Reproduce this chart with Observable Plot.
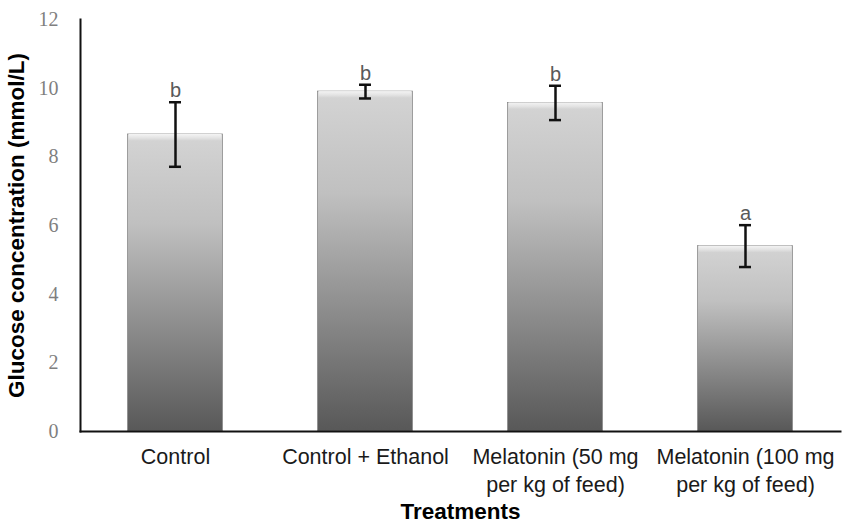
<!DOCTYPE html>
<html>
<head>
<meta charset="utf-8">
<script src="https://cdn.jsdelivr.net/npm/d3@7"></script>
<script src="https://cdn.jsdelivr.net/npm/@observablehq/plot@0.6"></script>
<style>
  body { margin: 0; background: #fff; }
</style>
</head>
<body>
<div id="chart"></div>
<script>
const treatments = ["Control", "Control + Ethanol", "Melatonin (50 mg per kg of feed)", "Melatonin (100 mg per kg of feed)"];
const tickLabels = ["Control", "Control + Ethanol", "Melatonin (50 mg\nper kg of feed)", "Melatonin (100 mg\nper kg of feed)"];
const means = [8.65, 9.9, 9.57, 5.4];
const errors = [0.94, 0.2, 0.5, 0.61];
const letters = ["b", "b", "b", "a"];
const yTicks = [0, 2, 4, 6, 8, 10, 12];

const data = treatments.map((t, i) => ({t, mean: means[i], err: errors[i], letter: letters[i]}));

const plot = Plot.plot({
  width: 843,
  height: 526,
  marginLeft: 80,
  marginRight: 3,
  marginTop: 19,
  marginBottom: 95,
  style: {fontFamily: "Liberation Sans, Arial, sans-serif", background: "#fff"},
  x: {domain: treatments, paddingInner: 0.5, paddingOuter: 0.25, round: false},
  y: {domain: [0, 12]},
  marks: [
    Plot.barY(data, {x: "t", y: "mean", fill: "url(#barGrad)", stroke: "#8a8a8a", strokeWidth: 0.8}),
    Plot.barY(data, {x: "t", y1: d => d.mean - 0.2, y2: "mean", fill: "url(#bevelGrad)", insetLeft: 1, insetRight: 1}),
    Plot.ruleX(data, {x: "t", y1: d => d.mean - d.err, y2: d => d.mean + d.err, stroke: "#111", strokeWidth: 2.5}),
    Plot.tickY(data, {x: "t", y: d => d.mean + d.err, stroke: "#111", strokeWidth: 2.5, insetLeft: 41.5, insetRight: 41.5}),
    Plot.tickY(data, {x: "t", y: d => d.mean - d.err, stroke: "#111", strokeWidth: 2.5, insetLeft: 41.5, insetRight: 41.5}),
    Plot.text(data, {x: "t", y: d => d.mean + d.err, text: "letter", lineAnchor: "bottom", dy: -5, fontSize: 20, fill: "#595959"}),
    Plot.axisY({ticks: yTicks, tickSize: 0, tickPadding: 22, fontSize: 20, fontFamily: "Liberation Serif, serif", color: "#7f7f7f", label: "Glucose concentration (mmol/L)", labelAnchor: "center", labelOffset: 72, labelArrow: false}),
    Plot.axisX({tickSize: 0, tickPadding: 13, fontSize: 21.5, lineHeight: 1.3, color: "#1a1a1a", tickFormat: (d) => tickLabels[treatments.indexOf(d)], label: "Treatments", labelAnchor: "center", labelOffset: 87, labelArrow: false}),
    Plot.frame({anchor: "left", stroke: "#111", strokeWidth: 2}),
    Plot.frame({anchor: "bottom", stroke: "#111", strokeWidth: 2})
  ]
});

const svg = d3.select(plot);
const defs = svg.insert("defs", ":first-child");
const g = defs.append("linearGradient").attr("id", "barGrad").attr("x1", 0).attr("y1", 0).attr("x2", 0).attr("y2", 1);
g.append("stop").attr("offset", "0%").attr("stop-color", "#d4d4d4");
g.append("stop").attr("offset", "30%").attr("stop-color", "#c0c0c0");
g.append("stop").attr("offset", "100%").attr("stop-color", "#585858");
const b = defs.append("linearGradient").attr("id", "bevelGrad").attr("x1", 0).attr("y1", 0).attr("x2", 0).attr("y2", 1);
b.append("stop").attr("offset", "0%").attr("stop-color", "#f4f4f4");
b.append("stop").attr("offset", "60%").attr("stop-color", "#e2e2e2");
b.append("stop").attr("offset", "100%").attr("stop-color", "#d2d2d2");
svg.selectAll('[aria-label="x-axis label"], [aria-label="y-axis label"]')
  .attr("fill", "#000").attr("font-size", 22.5).attr("font-weight", "bold")
  .attr("font-family", "Liberation Sans, Arial, sans-serif");
svg.selectAll('[aria-label="x-axis label"] text, [aria-label="y-axis label"] text')
  .attr("fill", "#000").attr("font-size", 22.5).attr("font-weight", "bold");
document.getElementById("chart").appendChild(plot);
</script>
</body>
</html>
